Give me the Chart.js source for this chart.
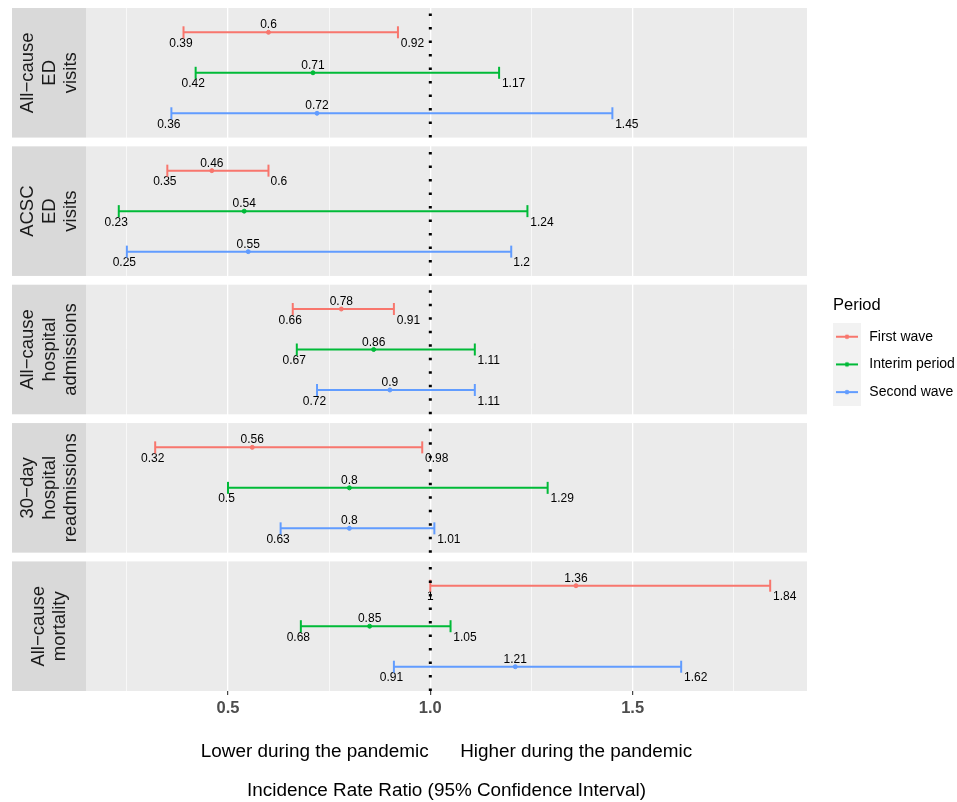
<!DOCTYPE html>
<html>
<head>
<meta charset="utf-8">
<script src="https://cdn.jsdelivr.net/npm/chart.js@4.4.1/dist/chart.umd.min.js"></script>
<style>
  html, body { margin: 0; padding: 0; background: #fff; }
  #wrap { position: relative; width: 957px; height: 802px; }
</style>
</head>
<body>
<div id="wrap"><canvas id="irrChart" width="957" height="802"></canvas></div>
<script>
// --- data ---
// facets, top to bottom (strip text lines)
const outcomes = [
    ['All\u2212cause', 'ED', 'visits'],
    ['ACSC', 'ED', 'visits'],
    ['All\u2212cause', 'hospital', 'admissions'],
    ['30\u2212day', 'hospital', 'readmissions'],
    ['All\u2212cause', 'mortality']
];
const periods = ['First wave', 'Interim period', 'Second wave'];
const periodColors = ['#F8766D', '#00BA38', '#619CFF'];

// incidence rate ratios and 95% CI, one value per outcome
const firstWaveIRR   = [0.6, 0.46, 0.78, 0.56, 1.36];
const firstWaveLow   = [0.39, 0.35, 0.66, 0.32, 1];
const firstWaveHigh  = [0.92, 0.6, 0.91, 0.98, 1.84];
const interimIRR     = [0.71, 0.54, 0.86, 0.8, 0.85];
const interimLow     = [0.42, 0.23, 0.67, 0.5, 0.68];
const interimHigh    = [1.17, 1.24, 1.11, 1.29, 1.05];
const secondWaveIRR  = [0.72, 0.55, 0.9, 0.8, 1.21];
const secondWaveLow  = [0.36, 0.25, 0.72, 0.63, 0.91];
const secondWaveHigh = [1.45, 1.2, 1.11, 1.01, 1.62];

const xTicks = [0.25, 0.5, 0.75, 1, 1.25, 1.5, 1.75];
const xTickLabels = ['', '0.5', '', '1.0', '', '1.5', ''];
const nullValue = 1;
const xAxisTitle = [
    'Lower during the pandemic      Higher during the pandemic',
    '',
    'Incidence Rate Ratio (95% Confidence Interval)'
];

const series = [
    { est: firstWaveIRR, lo: firstWaveLow, hi: firstWaveHigh },
    { est: interimIRR, lo: interimLow, hi: interimHigh },
    { est: secondWaveIRR, lo: secondWaveLow, hi: secondWaveHigh }
];

// --- layout of the facets on the y scale ---
const FONT = '"Liberation Sans", Arial, Helvetica, sans-serif';
const PANEL = 3.2;    // 3 rows + 0.6 expansion each side
const GAP = 0.217;
const panelTop = p => p * (PANEL + GAP);
const rowY = (p, k) => panelTop(p) + 0.6 + k;
const yMax = outcomes.length * PANEL + (outcomes.length - 1) * GAP;

Chart.defaults.font.family = FONT;

// legend keys: grey box with a line and a dot
function makeKey(color) {
    const c = document.createElement('canvas');
    c.width = 43;
    c.height = 28;
    const g = c.getContext('2d');
    g.fillStyle = '#F2F2F2';
    g.fillRect(0, 0, 28, 28);
    g.strokeStyle = color;
    g.lineWidth = 2;
    g.beginPath();
    g.moveTo(3, 14);
    g.lineTo(25, 14);
    g.stroke();
    g.fillStyle = color;
    g.beginPath();
    g.arc(14, 14, 2.3, 0, Math.PI * 2);
    g.fill();
    return c;
}
const keyIcons = periodColors.map(makeKey);

// --- datasets ---
const barSets = periods.map((name, k) => ({
    label: name,
    yAxisID: 'y',
    order: 1,
    data: outcomes.flatMap((o, p) => [
        { x: series[k].lo[p], y: rowY(p, k), end: true },
        { x: series[k].est[p], y: rowY(p, k), end: false },
        { x: series[k].hi[p], y: rowY(p, k), end: true },
        { x: null, y: null }
    ]),
    borderColor: periodColors[k],
    backgroundColor: periodColors[k],
    borderWidth: 2,
    spanGaps: false,
    pointStyle: c => (c.raw && c.raw.end ? 'line' : 'circle'),
    pointRotation: 90,
    pointRadius: c => (c.raw && c.raw.end ? 6 : 2),
    pointBorderWidth: c => (c.raw && c.raw.end ? 2 : 1),
    pointBackgroundColor: periodColors[k],
    pointBorderColor: periodColors[k],
    pointHoverRadius: 0
}));

// dotted reference line at IRR = 1, drawn on top in every facet
const refSets = outcomes.map((o, p) => ({
    label: 'ref' + p,
    yAxisID: 'y',
    order: 0,
    data: [
        { x: nullValue, y: panelTop(p) + PANEL },
        { x: nullValue, y: panelTop(p) }
    ],
    borderColor: '#000000',
    borderWidth: 3,
    borderDash: [2.5, 11],
    pointRadius: 0,
    pointHoverRadius: 0
}));

// --- plugins ---
const facetPanels = {
    id: 'facetPanels',
    beforeDraw(chart) {
        const { ctx, chartArea: a, scales: { y } } = chart;
        ctx.save();
        outcomes.forEach((lines, p) => {
            const top = y.getPixelForValue(panelTop(p));
            const bottom = y.getPixelForValue(panelTop(p) + PANEL);
            ctx.fillStyle = '#EBEBEB';
            ctx.fillRect(a.left, top, a.right - a.left, bottom - top);
            ctx.fillStyle = '#D9D9D9';
            ctx.fillRect(a.left - 74, top, 74, bottom - top);

            ctx.save();
            ctx.translate(a.left - 36.5, (top + bottom) / 2);
            ctx.rotate(-Math.PI / 2);
            ctx.fillStyle = '#1A1A1A';
            ctx.font = '18.5px ' + FONT;
            ctx.textAlign = 'center';
            ctx.textBaseline = 'middle';
            lines.forEach((t, i) => {
                ctx.fillText(t, 0, (i - (lines.length - 1) / 2) * 21.8);
            });
            ctx.restore();
        });
        ctx.restore();
    }
};

// estimate above the point, bounds below the caps
const valueLabels = {
    id: 'valueLabels',
    beforeDatasetsDraw(chart) {
        const { ctx, scales: { x, y } } = chart;
        ctx.save();
        ctx.font = '12px ' + FONT;
        ctx.fillStyle = '#000000';
        ctx.textBaseline = 'alphabetic';
        series.forEach((s, k) => {
            outcomes.forEach((o, p) => {
                const py = y.getPixelForValue(rowY(p, k));
                ctx.textAlign = 'center';
                ctx.fillText(String(s.est[p]), x.getPixelForValue(s.est[p]), py - 4);
                ctx.textAlign = 'left';
                const lo = String(s.lo[p]);
                const loW = ctx.measureText(lo).width;
                ctx.fillText(lo, x.getPixelForValue(s.lo[p]) + 1 - 0.65 * loW, py + 14.6);
                const hi = String(s.hi[p]);
                const hiW = ctx.measureText(hi).width;
                ctx.fillText(hi, x.getPixelForValue(s.hi[p]) + 0.12 * hiW, py + 14.6);
            });
        });
        ctx.restore();
    }
};

const isMajor = v => xTickLabels[xTicks.indexOf(v)] !== '';

new Chart(document.getElementById('irrChart'), {
    type: 'line',
    data: { datasets: [...barSets, ...refSets] },
    options: {
        responsive: false,
        animation: false,
        devicePixelRatio: 1,
        layout: { padding: { left: 86, top: 8, right: 0, bottom: 0 } },
        scales: {
            x: {
                type: 'linear',
                min: 0.149,
                max: 1.931,
                afterBuildTicks: s => { s.ticks = xTicks.map(v => ({ value: v })); },
                afterFit: s => { s.height = 111; },
                border: { display: false },
                grid: {
                    color: '#FFFFFF',
                    lineWidth: c => (c.tick && isMajor(c.tick.value) ? 1.3 : 0.65),
                    drawTicks: true,
                    tickLength: 4,
                    tickWidth: 1.1,
                    tickColor: c => (c.tick && isMajor(c.tick.value) ? '#333333' : 'rgba(0,0,0,0)')
                },
                ticks: {
                    autoSkip: false,
                    maxRotation: 0,
                    padding: 4,
                    color: '#4D4D4D',
                    font: { size: 16.5, weight: 'bold' },
                    callback: (v, i) => xTickLabels[i]
                },
                title: {
                    display: true,
                    text: xAxisTitle,
                    color: '#000000',
                    font: { size: 18.9, lineHeight: 1.037 },
                    padding: { top: 0, bottom: 1 }
                }
            },
            y: {
                type: 'linear',
                display: false,
                reverse: true,
                min: 0,
                max: yMax
            },
            legendGap: {
                type: 'linear',
                axis: 'y',
                position: 'right',
                display: true,
                grid: { display: false },
                ticks: { display: false },
                border: { display: false },
                afterFit: s => { s.width = 26; }
            }
        },
        plugins: {
            tooltip: { enabled: false },
            legend: {
                position: 'right',
                align: 'center',
                fullSize: false,
                maxWidth: 124,
                title: {
                    display: true,
                    text: 'Period',
                    position: 'start',
                    color: '#000000',
                    font: { size: 16.5, lineHeight: 1.11 },
                    padding: { top: 11.5, bottom: 0 }
                },
                labels: {
                    usePointStyle: true,
                    pointStyleWidth: 15.6,
                    padding: 13.7,
                    color: '#000000',
                    font: { size: 14 },
                    generateLabels: () => periods.map((name, k) => ({
                        text: name,
                        pointStyle: keyIcons[k],
                        fillStyle: periodColors[k],
                        strokeStyle: periodColors[k],
                        lineWidth: 0,
                        hidden: false,
                        datasetIndex: k
                    }))
                }
            }
        }
    },
    plugins: [facetPanels, valueLabels]
});
</script>
</body>
</html>
